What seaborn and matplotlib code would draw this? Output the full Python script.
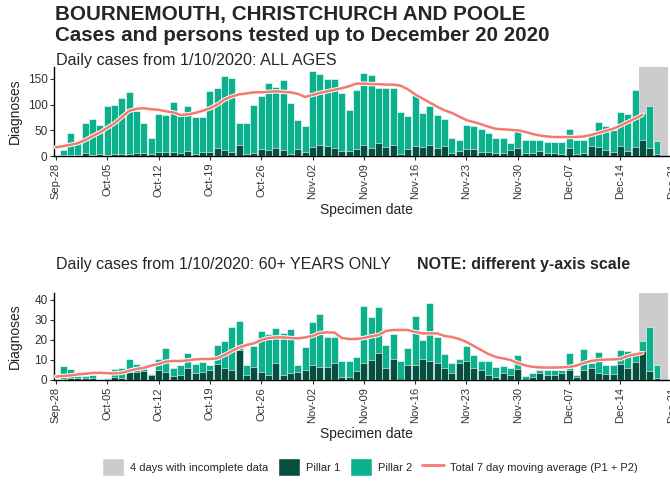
import numpy as np
import pandas as pd
import matplotlib
matplotlib.use("Agg")
import matplotlib.pyplot as plt
import matplotlib.patheffects as pe
from matplotlib.patches import Patch
from matplotlib.lines import Line2D
import seaborn as sns

# -- data, day 0 = 2020-09-28
dates = pd.date_range("2020-09-28", "2020-12-20")
tick_labels = ["Sep-28", "Oct-05", "Oct-12", "Oct-19", "Oct-26", "Nov-02", "Nov-09",
               "Nov-16", "Nov-23", "Nov-30", "Dec-07", "Dec-14", "Dec-21"]

# all ages: total (P1 + P2) and pillar 1
all_total = [0, 12, 45, 30, 65, 72, 60, 97, 99, 112, 124, 88, 65, 35, 82, 80, 106, 78, 98, 76,
             75, 127, 133, 155, 151, 64, 64, 99, 117, 143, 135, 148, 103, 71, 59, 166, 160, 150, 150, 122,
             90, 129, 162, 157, 132, 132, 132, 86, 77, 119, 84, 97, 80, 73, 36, 32, 60, 58, 52, 44,
             36, 36, 26, 54, 32, 32, 31, 28, 28, 28, 53, 31, 32, 45, 66, 58, 51, 85, 82, 129,
             83, 97, 29, 0]
all_p1 = [0, 1, 2, 1, 5, 2, 3, 2, 4, 4, 3, 6, 5, 3, 8, 7, 8, 5, 9, 4,
          8, 7, 15, 12, 8, 21, 4, 6, 13, 12, 15, 12, 4, 13, 7, 17, 21, 19, 15, 10,
          10, 14, 21, 16, 26, 17, 21, 4, 13, 19, 18, 21, 15, 19, 5, 10, 13, 13, 7, 7,
          5, 6, 12, 15, 6, 6, 10, 5, 5, 4, 15, 4, 6, 19, 17, 12, 8, 19, 10, 17,
          31, 15, 3, 0]
all_ma = [17, 19, 22, 25, 31, 39, 46, 55, 64, 76, 88, 92, 93, 91, 90, 87, 85, 80, 81, 84,
          88, 93, 100, 110, 116, 120, 122, 124, 124, 125, 126, 125, 124, 121, 115, 119, 123, 126, 129, 132,
          136, 141, 141, 140, 140, 139, 139, 137, 130, 120, 112, 104, 96, 89, 84, 77, 70, 66, 62, 57,
          53, 52, 51, 50, 47, 43, 40, 38, 37, 37, 37, 37, 38, 41, 45, 49, 53, 59, 66, 73,
          80]

# 60+ years: total (P1 + P2) and pillar 1
old_total = [0, 7, 5.5, 2, 2, 2.5, 0, 1, 5.5, 6, 10.5, 8, 6.5, 3, 10.5, 16, 6, 7.5, 13.5, 8,
             9, 7.5, 17.5, 19.5, 26.5, 29.5, 7.5, 17, 24.5, 23, 26, 23.5, 25.5, 7.5, 16.5, 29, 33, 21.5, 21.5, 9.5,
             9.5, 11.5, 37, 31.5, 36.5, 17.5, 23, 9.5, 16, 32, 20, 38.5, 21.5, 13, 8.5, 10.5, 17, 12.5, 9.5, 9.5,
             6.5, 7, 6, 12.5, 2, 3.5, 5, 5, 5, 5, 13.5, 2.5, 15.5, 8.5, 14, 7.5, 7.5, 15, 14.5, 14,
             19.5, 26.5, 7.5, 0]
old_p1 = [0, 0.5, 1, 1, 1, 1, 0, 0.5, 1.5, 1, 4, 4, 4.5, 2.5, 5, 4, 2, 2.5, 6, 3.5,
          4, 5, 8, 6, 5, 15, 2.5, 6.5, 4, 2.5, 8.5, 2.5, 3.5, 4, 5, 7.5, 6.5, 6.5, 8.5, 1.5,
          1.5, 4.5, 8.5, 10, 13.5, 6, 10.5, 0, 7.5, 7.5, 10.5, 9.5, 8.5, 6, 3.5, 8.5, 9.5, 6, 5, 2.5,
          1.5, 3.5, 2.5, 5.5, 0, 1.5, 3.5, 2.5, 2.5, 3.5, 5, 1.5, 5, 6, 3.5, 3, 3, 8, 6, 9,
          14.5, 4.5, 1, 0]
old_ma = [1.7, 2, 2.3, 2.8, 3.1, 3.5, 3.6, 3.4, 3.3, 3.6, 4.6, 5.5, 6.1, 7.2, 8, 9.2, 9.5, 9.5, 9.8, 10.3,
          10.5, 10.5, 10.8, 12.5, 14.5, 16.3, 17.5, 18.3, 20, 21, 21.3, 21.3, 21, 20.8, 21.3, 22, 23.5, 23.8, 23.7, 21,
          20.5, 20.5, 21, 21.8, 22.5, 24.5, 25, 25, 25, 24, 23.3, 23.3, 23.3, 22, 21.5, 20.5, 19, 17, 15, 13,
          11.5, 10.8, 10, 8.5, 7.3, 6.6, 6.3, 6.2, 6.2, 6.3, 6.5, 7.2, 8.5, 9.5, 10, 10.2, 10.3, 10.5, 12, 12.8,
          13.5]

P1_COL = "#064F40"
P2_COL = "#0BB18D"
GREY = "#CCCCCC"
LINE_COL = "#F47A70"

sns.set_theme(style="white")
plt.rcParams["font.family"] = ["Liberation Sans", "DejaVu Sans"]

days = np.arange(len(dates))
df_all = pd.DataFrame({"day": days, "total": all_total, "p1": all_p1})
df_old = pd.DataFrame({"day": days, "total": old_total, "p1": old_p1})

fig = plt.figure(figsize=(6.7, 4.83), dpi=100)
left = 54.5 / 670
width = (679 - 54.5) / 670
ax1 = fig.add_axes([left, 0.677, width, 0.185])
ax2 = fig.add_axes([left, 0.2133, width, 0.1805])


def draw(ax, df, ma, ymax, yticks):
    ax.axvspan(79.5, 83.5, color=GREY, lw=0, zorder=0)
    sns.barplot(data=df, x="day", y="total", native_scale=True, width=0.95,
                color=P2_COL, saturation=1, edgecolor="white", linewidth=0.4,
                errorbar=None, ax=ax, zorder=2)
    sns.barplot(data=df, x="day", y="p1", native_scale=True, width=0.95,
                color=P1_COL, saturation=1, edgecolor="white", linewidth=0.4,
                errorbar=None, ax=ax, zorder=3)
    sns.lineplot(x=days[:len(ma)], y=ma, color=LINE_COL, lw=1.8, ax=ax, zorder=4,
                 path_effects=[pe.Stroke(linewidth=3.2, foreground="white"), pe.Normal()])
    ax.set_xlim(-0.2, 85)
    ax.set_ylim(0, ymax)
    ax.set_xticks(np.arange(0, 85, 7))
    ax.set_xticklabels(tick_labels, rotation=90, fontsize=8, color="#333333")
    ax.set_yticks(yticks)
    ax.set_yticklabels([str(t) for t in yticks], fontsize=8.5, color="#333333")
    ax.set_xlabel("Specimen date", fontsize=10, color="#222222", labelpad=3)
    ax.set_ylabel("Diagnoses", fontsize=10, color="#222222")
    ax.yaxis.set_label_coords(-0.053, 0.5)
    ax.tick_params(axis="both", which="both", length=3, width=0.8, color="#333333",
                   bottom=True, left=True, pad=2)
    sns.despine(ax=ax)
    for s in ["left", "bottom"]:
        ax.spines[s].set_color("black")
        ax.spines[s].set_linewidth(1)


draw(ax1, df_all, all_ma, 174, [0, 50, 100, 150])
draw(ax2, df_old, old_ma, 43.6, [0, 10, 20, 30, 40])

fig.text(55 / 670, 0.969, "BOURNEMOUTH, CHRISTCHURCH AND POOLE", fontsize=14.9,
         fontweight="bold", va="center", ha="left")
fig.text(55 / 670, 0.927, "Cases and persons tested up to December 20 2020", fontsize=14.8,
         fontweight="bold", va="center", ha="left")
fig.text(56 / 670, 0.875, "Daily cases from 1/10/2020: ALL AGES", fontsize=11.6,
         va="center", ha="left")
fig.text(56 / 670, 0.452, "Daily cases from 1/10/2020: 60+ YEARS ONLY", fontsize=11.5,
         va="center", ha="left")
fig.text(417 / 670, 0.452, "NOTE: different y-axis scale", fontsize=11.5,
         fontweight="bold", va="center", ha="left")

handles = [Patch(facecolor=GREY), Patch(facecolor=P1_COL), Patch(facecolor=P2_COL),
           Line2D([0], [0], color=LINE_COL, lw=2)]
labels = ["4 days with incomplete data", "Pillar 1", "Pillar 2",
          "Total 7 day moving average (P1 + P2)"]
fig.legend(handles, labels, loc="center", bbox_to_anchor=(0.552, 0.033), ncol=4,
           frameon=False, fontsize=8, handlelength=2, handleheight=2,
           handletextpad=0.5, columnspacing=0.9)

fig.savefig("out.png", dpi=100)
